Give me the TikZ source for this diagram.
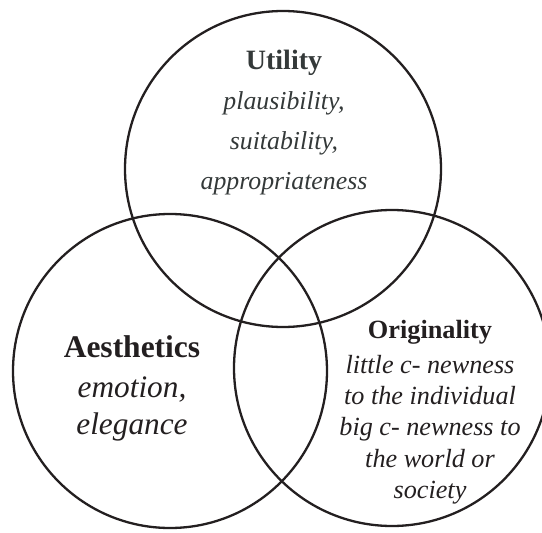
\documentclass[tikz,border=0pt]{standalone}
\usepackage{fontspec}
\setmainfont{Liberation Serif}
\usepackage{xcolor}
\usetikzlibrary{positioning}

\definecolor{ink}{RGB}{35,31,32}
\definecolor{inkgray}{RGB}{52,57,57}

\begin{document}
\begin{tikzpicture}[x=1pt, y=-1pt, line width=2.3pt,
  set/.style={circle, draw=ink, inner sep=0pt, minimum size=#1},
  head/.style={anchor=base, inner sep=0pt, text=ink, font=\bfseries},
  body/.style={anchor=north, inner sep=0pt, align=center, text=ink, font=\itshape}]
\useasboundingbox (0,0) rectangle (542,533);

% the three sets
\node[set=316pt] (utility) at (283,169) {};
\node[set=314pt] (aesthetics) at (170,371) {};
\node[set=316pt] (originality) at (392,368) {};

% labels, each list hangs below its heading's baseline
\node[head, text=inkgray, font=\bfseries\fontsize{28}{34}\selectfont] (utilityHead) at (284,69) {Utility};
\node[body, text=inkgray, font=\itshape\fontsize{25.8}{40}\selectfont, below=21.6pt of utilityHead.base] (utilityText)
  {plausibility,\\suitability,\\appropriateness};

\node[head, font=\bfseries\fontsize{31.5}{38}\selectfont] (aestheticsHead) at (132,357) {Aesthetics};
\node[body, font=\itshape\fontsize{31.3}{37}\selectfont, below=18.4pt of aestheticsHead.base] (aestheticsText)
  {emotion,\\elegance};

\node[head, font=\bfseries\fontsize{26.3}{32}\selectfont] (originalityHead) at (430,338) {Originality};
\node[body, font=\itshape\fontsize{26.2}{31.3}\selectfont, below=16pt of originalityHead.base] (originalityText)
  {little c- newness\\to the individual\\big c- newness to\\the world or\\society};
\end{tikzpicture}
\end{document}
